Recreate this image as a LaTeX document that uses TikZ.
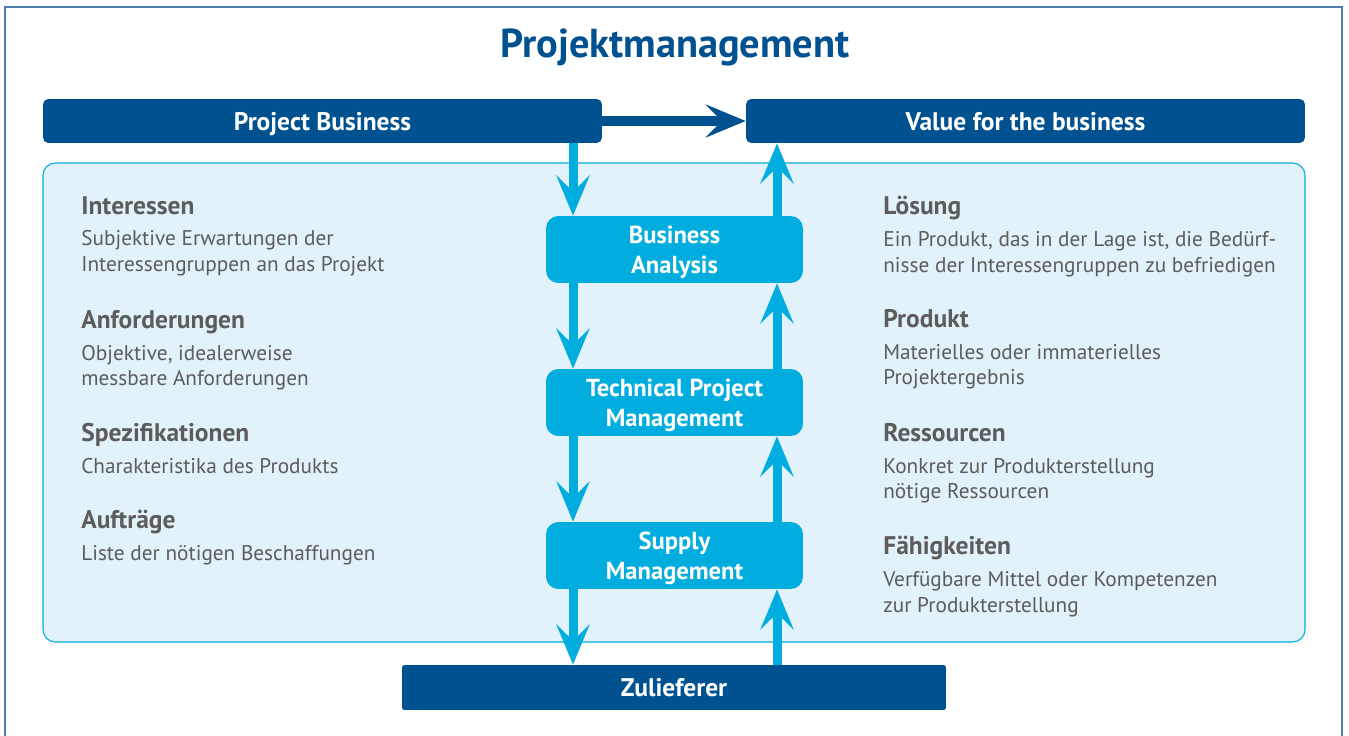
\documentclass[tikz,border=0pt]{standalone}
\usepackage{fontspec}
\setmainfont{PT Sans}
\usetikzlibrary{arrows.meta}

\definecolor{pmdark}{HTML}{00518F}
\definecolor{pmcyan}{HTML}{00ADDE}
\definecolor{pmlight}{HTML}{E1F2FA}
\definecolor{pmframe}{HTML}{4F7FB0}
\definecolor{pmgray}{HTML}{5C5C5C}

\newcommand{\hd}[1]{{\fontsize{14.5}{14.7}\selectfont\bfseries #1}}

\tikzset{
    darkbox/.style={fill=pmdark, text=white, rounded corners=3pt, inner sep=0pt,
        minimum height=0.88cm, text depth=0pt, font=\fontsize{14.5}{16}\selectfont\bfseries},
    midbox/.style={fill=pmcyan, text=white, rounded corners=7pt, inner sep=0pt,
        align=center, minimum width=5.14cm, minimum height=1.34cm, text depth=0pt,
        font=\fontsize{14}{17}\selectfont\bfseries},
    flow/.style={pmcyan, line width=0.18cm,
        -{Stealth[length=0.8cm, width=0.66cm, inset=0.32cm]}},
    txt/.style={anchor=north west, align=left, inner sep=0pt, text=pmgray,
        font=\fontsize{12.1}{14.7}\selectfont},
}

\begin{document}
\begin{tikzpicture}[x=0.02cm, y=-0.02cm]
    \useasboundingbox (0,0) rectangle (1349,736);
    % frame and panel
    \draw[pmframe, line width=1pt] (5,736) |- (1342,7) -- (1342,736);
    \draw[pmcyan, fill=pmlight, rounded corners=7pt, line width=0.6pt] (43,163) rectangle (1305,642);
    \node[text=pmdark, font=\fontsize{23}{26}\selectfont\bfseries] (title) at (675,47) {Projektmanagement};

    % boxes
    \node[darkbox, minimum width=11.18cm] (pb) at (322.5,121) {Project Business};
    \node[darkbox, minimum width=11.18cm] (vb) at (1025.5,121) {Value for the business};
    \node[midbox] (ba) at (674.5,249.5) {Business\\Analysis};
    \node[midbox] (tpm) at (674.5,402.5) {Technical Project\\Management};
    \node[midbox] (sm) at (674.5,555.5) {Supply\\Management};
    \node[darkbox, rounded corners=1pt, minimum width=10.88cm, minimum height=0.9cm] (zl) at (674,687.5) {Zulieferer};

    \coordinate (l) at (573,0);
    \coordinate (r) at (777,0);

    % arrows
    \draw[flow, pmdark, line width=0.2cm] (pb.east) -- (vb.west);
    \draw[flow] (pb.south -| l) -- (ba.north -| l);
    \draw[flow] (ba.south -| l) -- (tpm.north -| l);
    \draw[flow] (tpm.south -| l) -- (sm.north -| l);
    \draw[flow] (sm.south -| l) -- (zl.north -| l);
    \draw[flow] (ba.north -| r) -- (vb.south -| r);
    \draw[flow] (tpm.north -| r) -- (ba.south -| r);
    \draw[flow] (sm.north -| r) -- (tpm.south -| r);
    \draw[flow] (zl.north -| r) -- (sm.south -| r);

    % left column
    \node[txt] (int) at (81,196) {\hd{Interessen}\\[3.3pt]Subjektive Erwartungen der\\Interessengruppen an das Projekt};
    \node[txt] (anf) at (81,310) {\hd{Anforderungen}\\[3.3pt]Objektive, idealerweise\\messbare Anforderungen};
    \node[txt] (spez) at (81,423) {\hd{Spezifikationen}\\[3.3pt]Charakteristika des Produkts};
    \node[txt] (auf) at (81,510) {\hd{Aufträge}\\[3.3pt]Liste der nötigen Beschaffungen};

    % right column
    \node[txt] (loe) at (883,196) {\hd{Lösung}\\[3.3pt]Ein Produkt, das in der Lage ist, die Bedürf-\\nisse der Interessengruppen zu befriedigen};
    \node[txt] (prod) at (883,309) {\hd{Produkt}\\[3.3pt]Materielles oder immaterielles\\Projektergebnis};
    \node[txt] (res) at (883,423) {\hd{Ressourcen}\\[3.3pt]Konkret zur Produkterstellung\\nötige Ressourcen};
    \node[txt] (faeh) at (883,536) {\hd{Fähigkeiten}\\[3.3pt]Verfügbare Mittel oder Kompetenzen\\zur Produkterstellung};
\end{tikzpicture}
\end{document}
